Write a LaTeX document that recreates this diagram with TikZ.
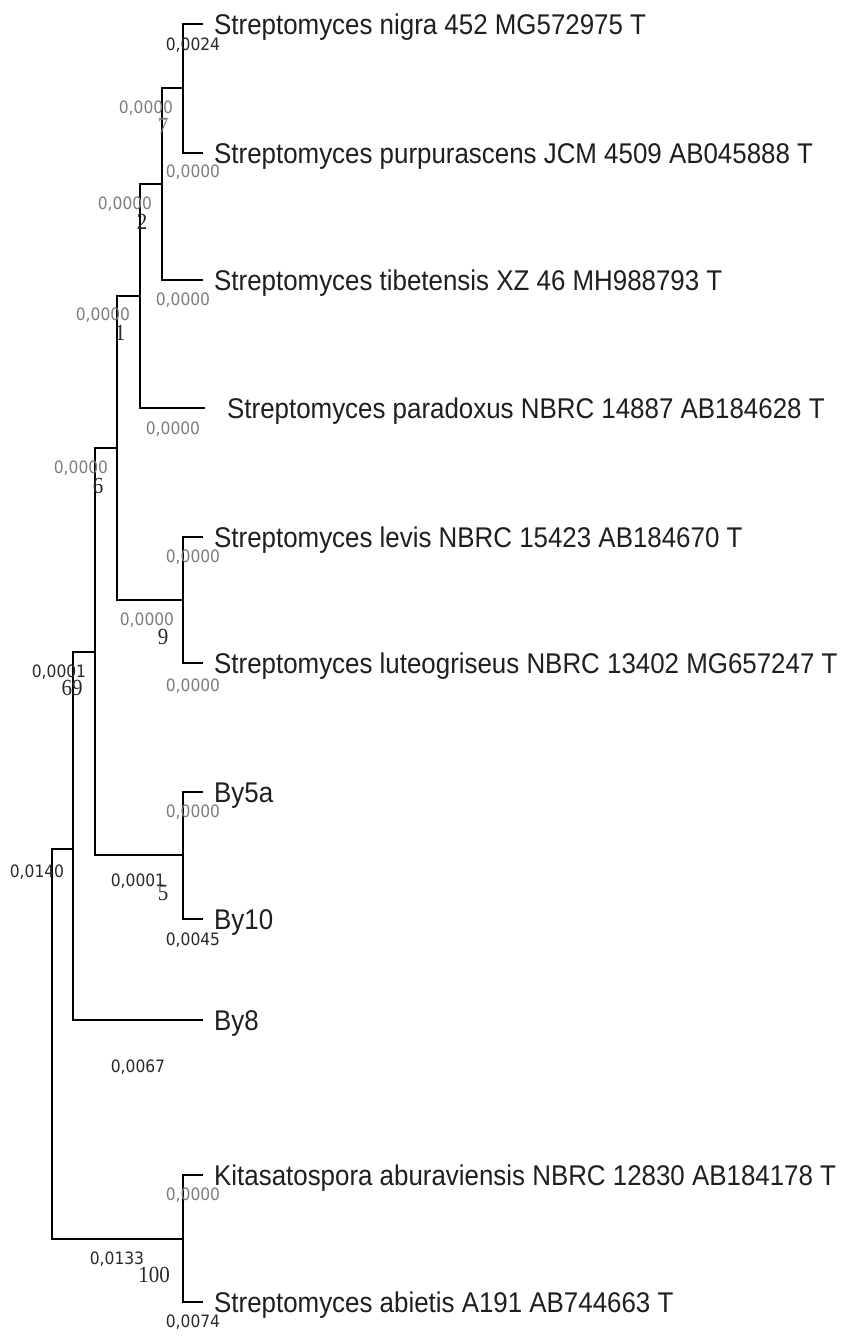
\documentclass[tikz,border=0pt]{standalone}
\usepackage{fontspec}
\setmainfont{Liberation Sans}
\newfontfamily\lblfont{DejaVu Sans}
\newfontfamily\bsfont{Liberation Serif}
\newcommand{\vst}[1]{\scalebox{1}[1.1]{#1}}
\definecolor{lgray}{RGB}{125,125,125}
\definecolor{dgray}{RGB}{40,40,40}
\tikzset{
  br/.style={line width=1.6pt, black},
  leaf/.style={anchor=base west, inner sep=0pt, font=\fontsize{25.9}{30}\selectfont, text=black!88},
  glab/.style={inner sep=0pt, font=\lblfont\fontsize{15.5}{18}\selectfont, text=lgray},
  blab/.style={inner sep=0pt, font=\lblfont\fontsize{15.5}{18}\selectfont, text=dgray},
  boot/.style={inner sep=0pt, font=\bsfont\fontsize{21}{24}\selectfont, text=dgray}
}
\begin{document}
\begin{tikzpicture}[x=1pt,y=-1pt]
\useasboundingbox[fill=white] (0,0) rectangle (850,1342);
% leaf tips
\coordinate (l1) at (203,24);
\coordinate (l2) at (203,153);
\coordinate (l3) at (203,280);
\coordinate (l4) at (205,408);
\coordinate (l5) at (203,537);
\coordinate (l6) at (203,663);
\coordinate (l7) at (203,792);
\coordinate (l8) at (203,919);
\coordinate (l9) at (203,1020);
\coordinate (l10) at (203,1175);
\coordinate (l11) at (203,1302);
% internal nodes
\coordinate (nA) at (183,88);
\coordinate (nB) at (162,184);
\coordinate (nC) at (140,296);
\coordinate (nE) at (183,600);
\coordinate (nD) at (117,448);
\coordinate (nG) at (183,855);
\coordinate (nF) at (95,652);
\coordinate (nH) at (73,849);
\coordinate (nK) at (183,1239);
\coordinate (root) at (52,1044);
% branches
\draw[br] (nA) |- (l1);
\draw[br] (nA) |- (l2);
\draw[br] (nB) |- (nA);
\draw[br] (nB) |- (l3);
\draw[br] (nC) |- (nB);
\draw[br] (nC) |- (l4);
\draw[br] (nE) |- (l5);
\draw[br] (nE) |- (l6);
\draw[br] (nD) |- (nC);
\draw[br] (nD) |- (nE);
\draw[br] (nG) |- (l7);
\draw[br] (nG) |- (l8);
\draw[br] (nF) |- (nD);
\draw[br] (nF) |- (nG);
\draw[br] (nH) |- (nF);
\draw[br] (nH) |- (l9);
\draw[br] (nK) |- (l10);
\draw[br] (nK) |- (l11);
\draw[br] (root) |- (nH);
\draw[br] (root) |- (nK);
% leaf labels
\node[leaf] (t1) at (214,34) {\vst{Streptomyces nigra 452 MG572975 T}};
\node[leaf] (t2) at (214,163) {\vst{Streptomyces purpurascens JCM 4509 AB045888 T}};
\node[leaf] (t3) at (214,290) {\vst{Streptomyces tibetensis XZ 46 MH988793 T}};
\node[leaf] (t4) at (227,418) {\vst{Streptomyces paradoxus NBRC 14887 AB184628 T}};
\node[leaf] (t5) at (214,547) {\vst{Streptomyces levis NBRC 15423 AB184670 T}};
\node[leaf] (t6) at (214,673) {\vst{Streptomyces luteogriseus NBRC 13402 MG657247 T}};
\node[leaf] (t7) at (214,802) {\vst{By5a}};
\node[leaf] (t8) at (214,929) {\vst{By10}};
\node[leaf] (t9) at (214,1030) {\vst{By8}};
\node[leaf] (t10) at (214,1185) {\vst{Kitasatospora aburaviensis NBRC 12830 AB184178 T}};
\node[leaf] (t11) at (214,1312) {\vst{Streptomyces abietis A191 AB744663 T}};
% branch length labels
\node[blab] (b1) at (193,45) {\vst{0,0024}};
\node[glab] (b2) at (146,108) {\vst{0,0000}};
\node[glab] (b3) at (193,172) {\vst{0,0000}};
\node[glab] (b4) at (125,204) {\vst{0,0000}};
\node[glab] (b5) at (183,300) {\vst{0,0000}};
\node[glab] (b6) at (103,315) {\vst{0,0000}};
\node[glab] (b7) at (173,429) {\vst{0,0000}};
\node[glab] (b8) at (81,468) {\vst{0,0000}};
\node[glab] (b9) at (193,557) {\vst{0,0000}};
\node[glab] (b10) at (147,620) {\vst{0,0000}};
\node[glab] (b11) at (193,686) {\vst{0,0000}};
\node[blab] (b12) at (59,672) {\vst{0,0001}};
\node[glab] (b13) at (193,812) {\vst{0,0000}};
\node[blab] (b14) at (37,872) {\vst{0,0140}};
\node[blab] (b15) at (138,881) {\vst{0,0001}};
\node[blab] (b16) at (193,940) {\vst{0,0045}};
\node[blab] (b17) at (138,1067) {\vst{0,0067}};
\node[glab] (b18) at (193,1195) {\vst{0,0000}};
\node[blab] (b19) at (117,1259) {\vst{0,0133}};
\node[blab] (b20) at (193,1322) {\vst{0,0074}};
% bootstrap values
\node[boot, text=lgray] (s1) at (163,126) {\vst{7}};
\node[boot] (s2) at (142,222) {\vst{2}};
\node[boot] (s3) at (120,333) {\vst{1}};
\node[boot] (s4) at (98,486) {\vst{6}};
\node[boot] (s5) at (163,637) {\vst{9}};
\node[boot] (s6) at (72,688) {\vst{69}};
\node[boot] (s7) at (163,893) {\vst{5}};
\node[boot] (s8) at (154,1275) {\vst{100}};
\end{tikzpicture}
\end{document}
